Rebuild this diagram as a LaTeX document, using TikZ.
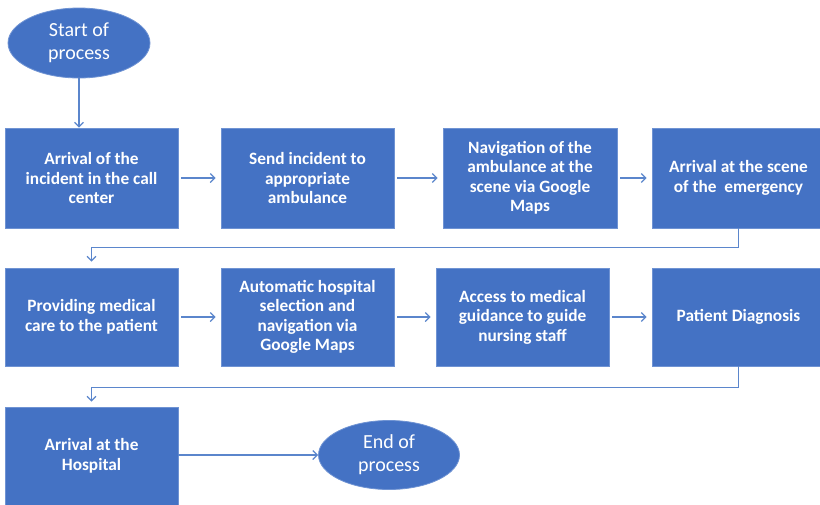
\documentclass[tikz,border=0pt]{standalone}
\usepackage{fontspec}
\setmainfont{Carlito}
\usetikzlibrary{arrows.meta,shapes.geometric}
\definecolor{boxblue}{HTML}{4472C4}
\definecolor{edgeblue}{HTML}{6F93D3}
\definecolor{arrowblue}{HTML}{5B86CC}
\tikzset{
  procbox/.style={rectangle,fill=boxblue,draw=edgeblue,line width=0.8pt,
    minimum width=173pt,minimum height=#1,inner sep=0pt,align=center,
    text=white,font=\fontsize{17.3}{19.5}\selectfont\bfseries},
  procbox/.default=98pt,
  termell/.style={ellipse,fill=boxblue,draw=edgeblue,line width=0.8pt,
    minimum width=142pt,minimum height=70pt,inner sep=0pt,align=center,
    text=white,font=\fontsize{20}{23}\selectfont},
  flow/.style={draw=arrowblue,line width=1.2pt,
    -{Straight Barb[length=4.5pt,width=9pt,line width=1.2pt]}},
}
\begin{document}
\begin{tikzpicture}[x=1pt,y=-1pt]
\useasboundingbox (0,0) rectangle (820,504);
\clip (0,0) rectangle (820,504);
\fill[white] (0,0) rectangle (820,504);
% terminals
\node[termell] (start) at (79,43) {Start of\\process};
% row 1
\node[procbox=100pt] (a1) at (91.5,178) {Arrival of the\\incident in the call\\center};
\node[procbox=100pt] (a2) at (307.5,178) {Send incident to\\appropriate\\ambulance};
\node[procbox=100pt,minimum width=174pt] (a3) at (530,178) {Navigation of the\\ambulance at the\\scene via Google\\Maps};
\node[procbox=100pt] (a4) at (738.5,178) {Arrival at the scene\\of the \ emergency};
% row 2
\node[procbox] (b1) at (91.5,317) {Providing medical\\care to the patient};
\node[procbox] (b2) at (307.5,317) {Automatic hospital\\selection and\\navigation via\\Google Maps};
\node[procbox] (b3) at (522.5,317) {Access to medical\\guidance to guide\\nursing staff};
\node[procbox] (b4) at (738.5,317) {Patient Diagnosis};
% row 3
\node[procbox] (c1) at (91.5,456) {Arrival at the\\Hospital};
\node[termell,minimum width=141pt,minimum height=69pt] (stop) at (389,455) {End of\\process};
% connectors
\draw[flow] (start.south) -- (start.south |- a1.north);
\draw[flow,shorten <=3pt,shorten >=5pt] (a1) -- (a2);
\draw[flow,shorten <=3pt,shorten >=5pt] (a2) -- (a3);
\draw[flow,shorten <=3pt,shorten >=5pt] (a3) -- (a4);
\draw[flow,shorten >=6pt] (a4.south) -- ++(0,19) -| (b1.north);
\draw[flow,shorten <=3pt,shorten >=5pt] (b1) -- (b2);
\draw[flow,shorten <=3pt,shorten >=5pt] (b2) -- (b3);
\draw[flow,shorten <=3pt,shorten >=5pt] (b3) -- (b4);
\draw[flow,shorten >=5pt] (b4.south) -- ++(0,21) -| (c1.north);
\draw[flow] (c1.east |- stop.west) -- (stop.west);
\end{tikzpicture}
\end{document}
